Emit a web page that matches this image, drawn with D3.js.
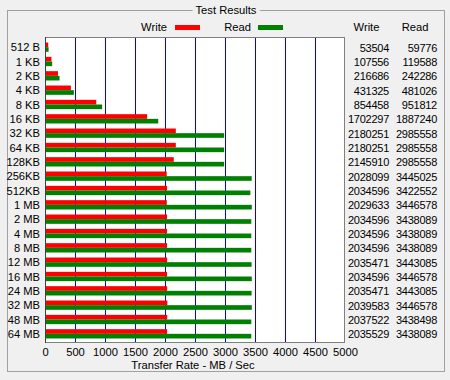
<!DOCTYPE html>
<html><head><meta charset="utf-8">
<script src="https://cdn.jsdelivr.net/npm/d3@7"></script>
<style>
html,body{margin:0;padding:0;background:#f0f0f0;}
svg{display:block;font-family:"Liberation Sans",Arial,sans-serif;}
</style></head>
<body><svg id="c" width="450" height="380"></svg>
<script>
const sizes = ["512 B","1 KB","2 KB","4 KB","8 KB","16 KB","32 KB","64 KB","128KB","256KB","512KB","1 MB","2 MB","4 MB","8 MB","12 MB","16 MB","24 MB","32 MB","48 MB","64 MB"];
const writeVals = [53504,107556,216686,431325,854458,1702297,2180251,2180251,2145910,2028099,2034596,2029633,2034596,2034596,2034596,2035471,2034596,2035471,2039583,2037522,2035529];
const readVals = [59776,119588,242286,481026,951812,1887240,2985558,2985558,2985558,3445025,3422552,3446578,3438089,3438089,3438089,3443085,3446578,3443085,3446578,3438498,3438089];
const xTicks = [0,500,1000,1500,2000,2500,3000,3500,4000,4500,5000];
const seriesNames = ["Write","Read"];
const seriesColors = ["#ff0000","#008000"];

const svg = d3.select("#c");
const fs = 11.2;
const px0 = 45, px1 = 345, py0 = 37, py1 = 343;

// group box
svg.append("rect").attr("x",7.5).attr("y",10.5).attr("width",437).attr("height",361)
  .attr("fill","none").attr("stroke","#a0a0a0");
const title = svg.append("text").attr("x",226).attr("y",14).attr("text-anchor","middle")
  .attr("font-size",fs).attr("fill","#000").text("Test Results");
const tb = title.node().getBBox();
svg.insert("rect","text").attr("x",tb.x-3).attr("y",6).attr("width",tb.width+6).attr("height",8).attr("fill","#f0f0f0");

const x = d3.scaleLinear().domain([0,5000]).range([px0,px1]);
const y = d3.scaleBand().domain(sizes).range([40,341]).paddingInner(0.35).paddingOuter(0.175);
const ys = d3.scaleBand().domain(seriesNames).range([0,y.bandwidth()]);

// plot bg
svg.append("rect").attr("x",px0).attr("y",py0).attr("width",px1-px0).attr("height",py1-py0).attr("fill","#fff");
// grid
svg.append("g").selectAll("line").data(xTicks.filter(t=>t>0&&t<5000)).join("line")
  .attr("x1",d=>Math.round(x(d))+0.5).attr("x2",d=>Math.round(x(d))+0.5)
  .attr("y1",py0).attr("y2",py1).attr("stroke","#0000ff").attr("stroke-width",1);

const rows = sizes.map((s,i)=>({s, vals:[writeVals[i],readVals[i]]}));
const g = svg.append("g");
rows.forEach(r=>{
  seriesNames.forEach((n,k)=>{
    g.append("rect").attr("x",x(0)).attr("y",y(r.s)+ys(n))
      .attr("width",x(r.vals[k]/1000)-x(0)).attr("height",ys.bandwidth())
      .attr("fill",seriesColors[k]);
  });
});
// plot border
svg.append("rect").attr("x",px0+0.5).attr("y",py0+0.5).attr("width",px1-px0-1).attr("height",py1-py0-1)
  .attr("fill","none").attr("stroke","#808080");
svg.append("line").attr("x1",px0+0.5).attr("x2",px0+0.5).attr("y1",py0).attr("y2",py1).attr("stroke","#404040");

// y labels
svg.append("g").selectAll("text").data(sizes).join("text")
  .attr("x",40).attr("y",d=>y(d)+y.bandwidth()/2+4).attr("text-anchor","end")
  .attr("font-size",fs).text(d=>d);

// x axis labels
const xa = svg.append("g").attr("transform",`translate(0,${py1})`)
  .call(d3.axisBottom(x).tickValues(xTicks).tickSize(0).tickPadding(5).tickFormat(d3.format("d")));
xa.select(".domain").remove();
xa.selectAll("text").attr("font-size",fs).attr("font-family","Liberation Sans, Arial, sans-serif").attr("fill","#000");
svg.append("text").attr("x",193).attr("y",369).attr("text-anchor","middle").attr("font-size",fs).text("Transfer Rate - MB / Sec");

// legend
const legX = [167,251], swX = [175,258];
seriesNames.forEach((n,k)=>{
  svg.append("text").attr("x",legX[k]).attr("y",31).attr("text-anchor","end").attr("font-size",fs).text(n);
  svg.append("rect").attr("x",swX[k]).attr("y",25).attr("width",25).attr("height",5).attr("fill",seriesColors[k]);
});

// table
const colRight = [389,437], colHead = [366.5,415];
seriesNames.forEach((n,k)=>{
  svg.append("text").attr("x",colHead[k]).attr("y",31).attr("text-anchor","middle").attr("font-size",fs).text(n);
  svg.append("g").selectAll("text").data(rows).join("text")
    .attr("x",colRight[k]).attr("y",d=>y(d.s)+y.bandwidth()/2+4.5).attr("text-anchor","end")
    .attr("font-size",11).attr("letter-spacing","-0.25").text(d=>d.vals[k]);
});
</script></body></html>
